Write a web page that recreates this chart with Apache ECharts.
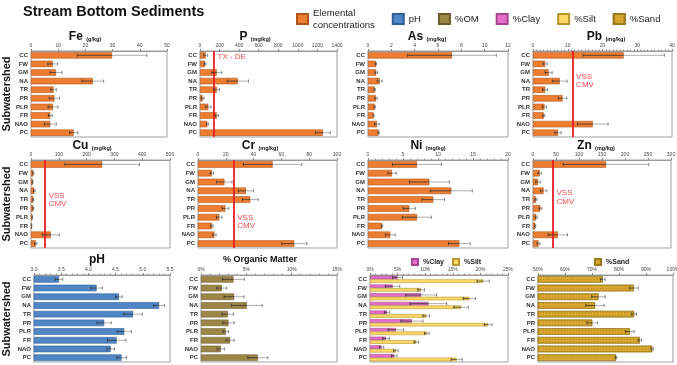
<!DOCTYPE html>
<html>
<head>
<meta charset="utf-8">
<title>Stream Bottom Sediments</title>
<script src="https://cdn.jsdelivr.net/npm/echarts@6/dist/echarts.min.js"></script>
<style>
  html, body { margin: 0; padding: 0; background: #fff; }
  #chart { width: 677px; height: 365px; }
</style>
</head>
<body>
<div id="chart"></div>
<script>
const sites = ['CC', 'FW', 'GM', 'NA', 'TR', 'PR', 'PLR', 'FR', 'NAO', 'PC'];

// element concentrations (mean, error)
const feMean = [29.8, 8.0, 9.2, 22.7, 8.3, 8.6, 8.1, 7.1, 7.1, 15.7];
const feErr = [12.8, 1.8, 2.2, 4.0, 1.0, 1.9, 1.8, 0.7, 2.2, 1.5];
const pMean = [58, 51, 171, 386, 171, 27, 85, 171, 75, 1256];
const pErr = [20, 10, 51, 109, 27, 14, 27, 17, 10, 75];
const asMean = [7.2, 0.68, 0.7, 1.0, 0.57, 0.68, 0.57, 0.48, 0.77, 0.91];
const asErr = [3.8, 0.05, 0.1, 0.2, 0.05, 0.1, 0.05, 0.03, 0.2, 0.05];
const pbMean = [26.1, 3.5, 4.5, 7.7, 3.5, 8.5, 3.3, 3.1, 17.2, 7.2];
const pbErr = [11.7, 0.6, 1.0, 2.1, 0.7, 1.2, 0.6, 0.3, 4.4, 0.9];
const cuMean = [256, 8, 6, 12, 8, 8, 5, 2.5, 71, 17];
const cuErr = [134, 1.5, 1, 3, 1.5, 1.5, 1, 0.5, 31, 4];
const crMean = [53.7, 10, 19, 34.5, 37.6, 19.7, 15.3, 10, 11.8, 69.3];
const crErr = [21, 1.2, 5.5, 5.5, 5.6, 2.4, 2, 0.8, 1.2, 9];
const niMean = [7.0, 3.43, 8.76, 11.9, 9.33, 5.9, 7.0, 2.0, 3.19, 13.05];
const niErr = [3.5, 0.6, 2.85, 3.0, 1.6, 0.86, 2.05, 0.1, 0.7, 1.55];
const znMean = [158.7, 14.5, 11, 23, 6.5, 16, 7, 5, 54, 12];
const znErr = [93, 3.5, 5, 7, 2, 3, 2, 1, 21, 3];

// soil properties
const phMean = [3.46, 4.15, 4.56, 5.30, 4.82, 4.29, 4.66, 4.52, 4.41, 4.61];
const phErr = [0.07, 0.11, 0.06, 0.1, 0.17, 0.13, 0.13, 0.17, 0.07, 0.09];
const omMean = [3.58, 2.29, 3.65, 5.05, 2.95, 3.03, 2.73, 3.21, 2.18, 6.27];
const omErr = [1.2, 0.55, 1.1, 1.7, 0.63, 0.63, 0.3, 0.45, 0.4, 1.1];
const clayMean = [5.0, 4.1, 9.26, 10.6, 3.1, 7.6, 4.7, 2.9, 2.1, 4.4];
const clayErr = [0.9, 1.3, 2.8, 3.3, 0.5, 2.0, 1.4, 0.6, 0.4, 0.5];
const siltMean = [20.5, 9.26, 18.0, 16.5, 10.2, 21.4, 10.3, 8.4, 4.7, 15.7];
const siltErr = [1.1, 0.6, 1.1, 1.3, 0.6, 0.7, 0.4, 0.4, 0.4, 1.0];
const sandMean = [74.0, 85.5, 72.4, 71.1, 85.6, 70.1, 84.0, 87.7, 92.3, 78.9];
const sandErr = [0.9, 1.6, 2.5, 3.4, 0.9, 2.0, 1.6, 0.6, 0.4, 0.3];

// guideline values
const pLimit = 143;
const pbLimit = 11.4;
const cuLimit = 51;
const crLimit = 25.7;
const znLimit = 43.5;

const FONT = '"Liberation Sans", Arial, sans-serif';
const ELEM = 'Elemental\nconcentrations';
const RED = '#EE1C25';

// [left, top, width, height]
const grids = [
  [31, 51, 136, 86], [200, 51, 137, 86], [368, 51, 140, 86], [533, 51, 139, 86],
  [31, 160, 139, 88], [198, 160, 139, 88], [368, 160, 140, 88], [533, 160, 138, 88],
  [34, 275, 136, 87], [201, 275, 136, 87], [370, 275, 138, 87], [538, 275, 135, 87]
];

const plain = (v) => String(v);
const pct = (v) => v + '%';

function valueAxis(i, min, max, interval, minor, fmt) {
  return {
    type: 'value', gridIndex: i, position: 'top', min, max, interval,
    axisLine: { show: true, lineStyle: { color: '#999', width: 1 } },
    axisTick: { show: true, length: 2, lineStyle: { color: '#888' } },
    minorTick: { show: !!minor, splitNumber: minor || 5, length: 1.5, lineStyle: { color: '#999' } },
    splitLine: { show: false },
    axisLabel: {
      fontSize: 5, fontFamily: FONT, color: '#444', margin: 3,
      showMinLabel: true, showMaxLabel: true, hideOverlap: false,
      formatter: fmt || plain
    }
  };
}

function catAxis(i) {
  return {
    type: 'category', gridIndex: i, data: sites, inverse: true,
    axisLine: { show: false }, axisTick: { show: false },
    axisLabel: { fontSize: 6, fontWeight: 'bold', fontFamily: FONT, color: '#333', margin: 3, interval: 0 }
  };
}

function bars(name, i, values, color, border, extra) {
  return Object.assign({
    type: 'bar', name, xAxisIndex: i, yAxisIndex: i, data: values,
    barCategoryGap: '25%', clip: true, silent: true, animation: false,
    itemStyle: { color, borderColor: border, borderWidth: 0.6 }
  }, extra || {});
}

function limitLine(value) {
  return {
    silent: true, symbol: 'none', label: { show: false }, animation: false,
    lineStyle: { color: RED, width: 1.8, type: 'solid' },
    data: [{ xAxis: value }]
  };
}

function errorBars(i, values, errs, shift) {
  return {
    type: 'custom', xAxisIndex: i, yAxisIndex: i, silent: true, animation: false, z: 5,
    data: values.map((v, k) => [v, k, errs[k]]),
    encode: { x: 0, y: 1 },
    renderItem: (params, api) => {
      const v = api.value(0), k = api.value(1), e = api.value(2);
      const band = api.size([0, 1])[1];
      const y = api.coord([v, k])[1] + (shift || 0) * band;
      const xl = api.coord([v - e, k])[0];
      const xv = api.coord([v, k])[0];
      const xh = api.coord([v + e, k])[0];
      const h = 1.6;
      return {
        type: 'group',
        children: [
          { type: 'line', shape: { x1: xl, y1: y, x2: xv, y2: y }, style: { stroke: '#333', lineWidth: 0.8 } },
          { type: 'line', shape: { x1: xv, y1: y, x2: xh, y2: y }, style: { stroke: '#9a9a9a', lineWidth: 0.8 } },
          { type: 'line', shape: { x1: xl, y1: y - h, x2: xl, y2: y + h }, style: { stroke: '#333', lineWidth: 0.8 } },
          { type: 'line', shape: { x1: xh, y1: y - h, x2: xh, y2: y + h }, style: { stroke: '#666', lineWidth: 0.8 } }
        ]
      };
    }
  };
}

const orange = ['#ED7D31', '#B0561A'];

const xAxes = [
  valueAxis(0, 0, 50, 10),
  valueAxis(1, 0, 1400, 200),
  valueAxis(2, 0, 12, 2),
  valueAxis(3, 0, 40, 10, 10),
  valueAxis(4, 0, 500, 100),
  valueAxis(5, 0, 100, 20),
  valueAxis(6, 0, 20, 5, 5),
  valueAxis(7, 0, 300, 50),
  valueAxis(8, 3, 5.5, 0.5, 5, (v) => v.toFixed(1)),
  valueAxis(9, 0, 15, 5, 5, pct),
  valueAxis(10, 0, 25, 5, 5, pct),
  valueAxis(11, 50, 100, 10, 0, pct)
];

const series = [
  bars(ELEM, 0, feMean, orange[0], orange[1]), errorBars(0, feMean, feErr),
  bars(ELEM, 1, pMean, orange[0], orange[1], { markLine: limitLine(pLimit) }), errorBars(1, pMean, pErr),
  bars(ELEM, 2, asMean, orange[0], orange[1]), errorBars(2, asMean, asErr),
  bars(ELEM, 3, pbMean, orange[0], orange[1], { markLine: limitLine(pbLimit) }), errorBars(3, pbMean, pbErr),
  bars(ELEM, 4, cuMean, orange[0], orange[1], { markLine: limitLine(cuLimit) }), errorBars(4, cuMean, cuErr),
  bars(ELEM, 5, crMean, orange[0], orange[1], { markLine: limitLine(crLimit) }), errorBars(5, crMean, crErr),
  bars(ELEM, 6, niMean, orange[0], orange[1]), errorBars(6, niMean, niErr),
  bars(ELEM, 7, znMean, orange[0], orange[1], { markLine: limitLine(znLimit) }), errorBars(7, znMean, znErr),
  bars('pH', 8, phMean, '#4F86C6', '#2D5E96'), errorBars(8, phMean, phErr),
  bars('%OM', 9, omMean, '#9E8646', '#6B5A2A'), errorBars(9, omMean, omErr),
  bars('%Clay', 10, clayMean, '#E46FC8', '#A84590', { barGap: '0%', barCategoryGap: '18%' }),
  bars('%Silt', 10, siltMean, '#FFD966', '#B8962E', { barGap: '0%', barCategoryGap: '18%' }),
  errorBars(10, clayMean, clayErr, -0.205), errorBars(10, siltMean, siltErr, 0.205),
  bars('%Sand', 11, sandMean, '#D9A62E', '#9B7A1E', {
    itemStyle: {
      color: '#D9A62E', borderColor: '#9B7A1E', borderWidth: 0.6,
      decal: { symbol: 'circle', symbolSize: 1, dashArrayX: [1, 2], dashArrayY: [1, 2], color: 'rgba(120,85,10,0.45)' }
    }
  }),
  errorBars(11, sandMean, sandErr)
];

const panelTitles = [
  ['Fe', '(g/kg)', 85, 37], ['P', '(mg/kg)', 255, 37], ['As', '(mg/kg)', 427, 37], ['Pb', '(mg/kg)', 606, 37],
  ['Cu', '(mg/kg)', 92, 146], ['Cr', '(mg/kg)', 260, 146], ['Ni', '(mg/kg)', 428, 146], ['Zn', '(mg/kg)', 596, 146]
];

const graphics = [
  { type: 'text', x: 23, y: 12, style: { text: 'Stream Bottom Sediments', font: 'bold 14.5px ' + FONT, fill: '#111', textVerticalAlign: 'middle' } },
  { type: 'text', x: 260, y: 260, style: { text: '% Organic Matter', font: 'bold 9px ' + FONT, fill: '#111', textAlign: 'center', textVerticalAlign: 'middle' } },
  { type: 'text', x: 97, y: 260, style: { text: 'pH', font: 'bold 12px ' + FONT, fill: '#111', textAlign: 'center', textVerticalAlign: 'middle' } }
];
[94, 204, 319].forEach((y) => {
  graphics.push({
    type: 'text', x: 7, y, rotation: Math.PI / 2,
    style: { text: 'Subwatershed', font: 'bold 11px ' + FONT, fill: '#111', textAlign: 'center', textVerticalAlign: 'middle' }
  });
});
panelTitles.forEach(([sym, unit, x, y]) => {
  graphics.push({
    type: 'text', x, y,
    style: {
      text: '{a|' + sym + '} {b|' + unit + '}',
      rich: {
        a: { fontSize: 12, fontWeight: 'bold', fontFamily: FONT, fill: '#111', verticalAlign: 'bottom' },
        b: { fontSize: 5.5, fontWeight: 'bold', fontFamily: FONT, fill: '#111', verticalAlign: 'bottom', padding: [0, 0, 1, 0] }
      },
      textAlign: 'center', textVerticalAlign: 'middle'
    }
  });
});

const chart = echarts.init(document.getElementById('chart'), null, { renderer: 'canvas' });
chart.setOption({
  backgroundColor: '#fff',
  animation: false,
  textStyle: { fontFamily: FONT },
  grid: grids.map(([left, top, width, height]) => ({
    left, top, width, height, show: true, borderColor: '#a0a0a0', borderWidth: 1,
    backgroundColor: '#fff', containLabel: false, outerBoundsMode: 'none'
  })),
  legend: [
    {
      left: 291, top: 2, itemWidth: 11, itemHeight: 10, itemGap: 17, selectedMode: false,
      icon: 'rect', textStyle: { fontSize: 9.5, color: '#222', fontFamily: FONT, lineHeight: 12 },
      data: [ELEM, 'pH', '%OM', '%Clay', '%Silt', '%Sand']
    },
    {
      left: 406, top: 253, itemWidth: 6, itemHeight: 6, itemGap: 8, selectedMode: false, icon: 'rect',
      textStyle: { fontSize: 7, fontWeight: 'bold', color: '#222', fontFamily: FONT },
      data: ['%Clay', '%Silt']
    },
    {
      left: 589, top: 253, itemWidth: 6, itemHeight: 6, selectedMode: false, icon: 'rect',
      textStyle: { fontSize: 7, fontWeight: 'bold', color: '#222', fontFamily: FONT },
      data: ['%Sand']
    }
  ],
  xAxis: xAxes,
  yAxis: grids.map((g, i) => catAxis(i)),
  series
});

// red guideline labels, placed next to the lines
const refLabels = [
  [1, pLimit, 'TX - DE', 57],
  [3, pbLimit, 'VSS\nCMV', 81],
  [4, cuLimit, 'VSS\nCMV', 200],
  [5, crLimit, 'VSS\nCMV', 222],
  [7, znLimit, 'VSS\nCMV', 197.5]
];
refLabels.forEach(([axis, value, text, y]) => {
  const x = chart.convertToPixel({ xAxisIndex: axis }, value);
  graphics.push({
    type: 'text', x: x + 3.5, y,
    style: { text, font: '8px ' + FONT, fill: '#F0484E', lineHeight: 8.5, textVerticalAlign: 'middle' }
  });
});

chart.setOption({ graphic: graphics });
</script>
</body>
</html>
